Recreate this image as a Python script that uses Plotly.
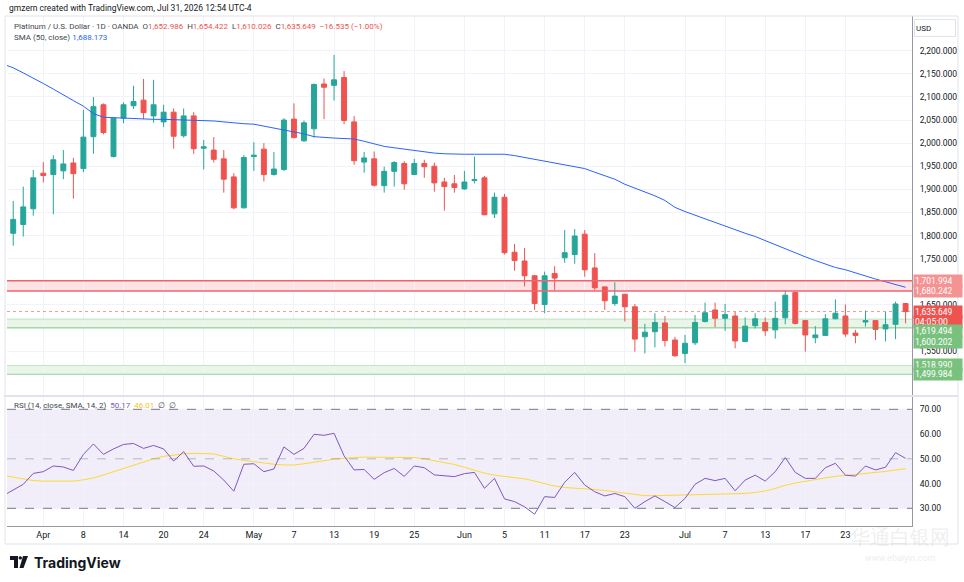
import pandas as pd
import plotly.graph_objects as go
from plotly.subplots import make_subplots

# daily bars (OANDA, Good Friday missing)
days = pd.bdate_range("2026-03-26", "2026-07-31")
days = days[days != pd.Timestamp("2026-04-03")]
dates = [d.strftime("%Y-%m-%d") for d in days]

opens = [1905, 1805, 1824, 1858,
         1935, 1932, 1940, 1957, 1945, 2014, 2083, 1971, 2054, 2081, 2093, 2059, 2046, 2067, 2016, 2059, 1989, 1985, 1966, 1927, 1860,
         1971, 1987, 1932, 1943, 2052, 2005, 2031, 2128, 2125, 2142, 2046, 1959, 1966, 1908, 1939, 1956, 1932, 1956, 1950, 1916, 1912,
         1901, 1919, 1925, 1847, 1883, 1764, 1745, 1713, 1651, 1718, 1752, 1759, 1803, 1730, 1689, 1653, 1673, 1646, 1581, 1592, 1611, 1574,
         1545, 1568, 1614, 1639, 1621, 1626, 1571, 1605, 1612, 1596, 1622, 1677, 1616, 1579, 1584, 1620, 1626, 1589, 1613, 1616, 1598, 1608, 1652.986]
highs = [1915, 1875, 1906, 1942,
         1959, 1974, 1985, 1968, 2072, 2100, 2086, 2056, 2088, 2124, 2139, 2137, 2083, 2075, 2075, 2067, 2007, 2013, 1985, 1935, 1974,
         2002, 2000, 1981, 2054, 2086, 2049, 2129, 2140, 2191, 2156, 2059, 1981, 1982, 1949, 1961, 1961, 1966, 1964, 1958, 1925, 1931,
         1940, 1971, 1929, 1893, 1890, 1782, 1773, 1715, 1722, 1734, 1812, 1814, 1812, 1762, 1690, 1699, 1674, 1652, 1609, 1632, 1626, 1581,
         1585, 1628, 1655, 1655, 1652, 1635, 1623, 1632, 1623, 1657, 1681, 1677, 1617, 1604, 1630, 1662, 1651, 1596, 1638, 1617, 1635, 1657, 1654.422]
lows = [1795, 1778, 1798, 1843,
        1915, 1846, 1922, 1880, 1937, 1977, 2019, 1969, 2043, 2074, 2052, 2044, 2035, 1988, 2012, 1977, 1943, 1958, 1893, 1857, 1859,
        1940, 1917, 1930, 1940, 2010, 2003, 2012, 2052, 2092, 2041, 1953, 1936, 1906, 1893, 1906, 1899, 1931, 1925, 1895, 1854, 1893,
        1899, 1913, 1844, 1838, 1759, 1724, 1690, 1639, 1632, 1682, 1741, 1739, 1711, 1682, 1639, 1648, 1614, 1549, 1545, 1558, 1560, 1538,
        1524, 1563, 1612, 1602, 1594, 1556, 1569, 1599, 1583, 1577, 1608, 1608, 1549, 1567, 1583, 1619, 1581, 1567, 1603, 1574, 1571, 1576, 1610.026]
closes = [1803, 1835, 1862, 1925,
          1930, 1964, 1955, 1934, 2013, 2079, 2023, 2054, 2083, 2090, 2066, 2083, 2067, 2015, 2059, 1988, 1992, 1965, 1922, 1860, 1969,
          1974, 1932, 1944, 2050, 2012, 2044, 2127, 2121, 2137, 2049, 1962, 1968, 1909, 1939, 1958, 1912, 1956, 1949, 1914, 1906, 1904,
          1916, 1921, 1845, 1883, 1763, 1746, 1713, 1653, 1713, 1708, 1763, 1799, 1726, 1687, 1659, 1669, 1646, 1576, 1591, 1612, 1573, 1540,
          1567, 1612, 1633, 1621, 1629, 1572, 1604, 1620, 1594, 1621, 1671, 1610, 1585, 1585, 1620, 1632, 1587, 1584, 1616, 1597, 1607, 1652, 1635.649]

sma50 = [2171, 2163, 2152, 2141,
         2129, 2117, 2104, 2092, 2080, 2064, 2056, 2055, 2053, 2052, 2051.5, 2051.5, 2051.5, 2051, 2050, 2049, 2048.5, 2048, 2046, 2043.5, 2042,
         2041, 2037, 2033, 2029, 2025, 2020, 2014, 2012, 2011, 2010, 2009, 2004, 1998, 1993, 1990, 1987, 1984, 1981, 1978.5, 1977, 1976,
         1976, 1976, 1976, 1976, 1976, 1973, 1969, 1965, 1961, 1957, 1953, 1950, 1945, 1937, 1930, 1922, 1911, 1903, 1894, 1886, 1876, 1861,
         1852, 1844, 1836, 1828, 1820, 1812, 1805, 1798, 1789, 1780, 1771, 1762, 1754, 1746, 1738, 1731, 1726, 1719, 1713, 1706, 1700, 1694, 1688.173]

rsi = [35.1, 37.4, 39.7, 44.1,
       44.8, 47.1, 46.7, 45.3, 51.8, 56.0, 51.8, 54.0, 55.8, 56.2, 54.2, 55.4, 54.0, 49.1, 52.9, 47.0, 47.1, 45.1, 41.4, 36.9, 47.8,
       48.0, 44.8, 45.9, 54.8, 51.8, 54.2, 59.9, 59.5, 60.3, 51.2, 45.5, 45.7, 41.7, 44.4, 46.1, 42.9, 47.1, 46.4, 43.5, 43.0, 42.8,
       44.0, 44.5, 38.1, 42.1, 33.8, 32.7, 30.6, 27.6, 34.7, 34.4, 40.5, 44.5, 39.4, 36.7, 35.0, 36.0, 34.7, 30.0, 32.7, 35.0, 32.7, 30.3,
       34.0, 39.7, 42.1, 41.2, 42.1, 37.1, 41.4, 43.4, 41.0, 44.8, 50.5, 44.5, 42.1, 42.1, 46.4, 48.2, 43.4, 43.0, 47.1, 45.5, 46.6, 52.5, 50.17]
rsi_sma = [43.3, 42.5, 41.8, 41.2,
           41.0, 41.1, 41.1, 41.0, 41.5, 42.3, 43.5, 44.8, 46.2, 47.6, 48.8, 50.0, 51.0, 51.6, 52.0, 52.2, 52.2, 52.0, 51.0, 50.0, 49.4,
           48.8, 48.2, 47.8, 47.5, 47.5, 48.0, 48.5, 49.2, 49.9, 50.3, 50.5, 50.7, 50.7, 50.7, 50.6, 50.5, 50.5, 50.0, 49.3, 48.6, 47.7,
           46.6, 45.3, 44.2, 43.4, 43.0, 42.6, 41.9, 41.0, 39.9, 39.0, 38.4, 38.2, 38.1, 37.6, 37.2, 36.7, 36.1, 35.4, 35.1, 35.1, 35.2, 35.3,
           35.4, 35.5, 35.6, 35.6, 35.6, 35.7, 36.0, 36.4, 37.0, 38.0, 39.3, 40.2, 40.8, 41.4, 42.3, 42.9, 43.3, 43.6, 43.9, 44.4, 44.9, 45.5, 46.01]

# horizontal zones drawn on the chart
resistance = (1680.242, 1701.994)
supports = [(1600.202, 1619.494), (1499.984, 1518.990)]
last_price = 1635.649

tick_dates = ["2026-04-01", "2026-04-08", "2026-04-14", "2026-04-20", "2026-04-24",
              "2026-05-01", "2026-05-07", "2026-05-13", "2026-05-19", "2026-05-25",
              "2026-06-01", "2026-06-05", "2026-06-11", "2026-06-17", "2026-06-23",
              "2026-07-01", "2026-07-07", "2026-07-13", "2026-07-17", "2026-07-23"]
tick_text = ["Apr", "8", "14", "20", "24", "May", "7", "13", "19", "25",
             "Jun", "5", "11", "17", "23", "Jul", "7", "13", "17", "23"]
price_ticks = [1550, 1650, 1750, 1800, 1850, 1900, 1950, 2000, 2050, 2100, 2150, 2200]

UP = "#26a69a"
DOWN = "#ef5350"
GRID = "#f0f3fa"
TXT = "#131722"

fig = make_subplots(rows=2, cols=1, shared_xaxes=True)

fig.add_trace(go.Candlestick(
    x=dates, open=opens, high=highs, low=lows, close=closes,
    increasing=dict(line=dict(color=UP, width=1), fillcolor=UP),
    decreasing=dict(line=dict(color=DOWN, width=1), fillcolor=DOWN),
    whiskerwidth=0, hoverinfo="skip"), row=1, col=1)
fig.add_trace(go.Scatter(x=dates, y=sma50, mode="lines",
                         line=dict(color="#2962ff", width=1), hoverinfo="skip"), row=1, col=1)

fig.add_trace(go.Scatter(x=dates, y=rsi_sma, mode="lines",
                         line=dict(color="#fdd835", width=1), hoverinfo="skip"), row=2, col=1)
fig.add_trace(go.Scatter(x=dates, y=rsi, mode="lines",
                         line=dict(color="#7e57c2", width=1), hoverinfo="skip"), row=2, col=1)

# zones
fig.add_shape(type="rect", xref="x domain", yref="y", x0=0, x1=1,
              y0=resistance[0], y1=resistance[1], fillcolor="rgba(242,54,69,0.14)",
              line=dict(width=0), layer="below")
for v in resistance:
    fig.add_shape(type="line", xref="x domain", yref="y", x0=0, x1=1, y0=v, y1=v,
                  line=dict(color="#f0646c", width=1.5))
for lo, hi in supports:
    fig.add_shape(type="rect", xref="x domain", yref="y", x0=0, x1=1, y0=lo, y1=hi,
                  fillcolor="rgba(76,175,80,0.13)", line=dict(width=0), layer="below")
    fig.add_shape(type="line", xref="x domain", yref="y", x0=0, x1=1, y0=lo, y1=lo,
                  line=dict(color="rgba(76,175,80,0.55)", width=1.2))
    fig.add_shape(type="line", xref="x domain", yref="y", x0=0, x1=1, y0=hi, y1=hi,
                  line=dict(color="rgba(76,175,80,0.3)", width=1))
fig.add_shape(type="line", xref="x domain", yref="y", x0=0, x1=1, y0=last_price, y1=last_price,
              line=dict(color="rgba(239,83,80,0.6)", width=1, dash="dot"))

# RSI band and levels
fig.add_shape(type="rect", xref="x2 domain", yref="y2", x0=0, x1=1, y0=30, y1=70,
              fillcolor="rgba(126,87,194,0.1)", line=dict(width=0), layer="below")
for lvl, col in [(70, "#787b86"), (50, "rgba(120,123,134,0.5)"), (30, "#787b86")]:
    fig.add_shape(type="line", xref="x2 domain", yref="y2", x0=0, x1=1, y0=lvl, y1=lvl,
                  line=dict(color=col, width=1, dash="dash"))

# pane separator, outer frame
fig.add_shape(type="line", xref="paper", yref="paper", x0=-0.003, x1=1.051, y0=0.2549, y1=0.2549,
              line=dict(color="#e0e3eb", width=2))
fig.add_shape(type="rect", xref="paper", yref="paper", x0=-0.0022, x1=1.0508, y0=-0.0353, y1=1,
              line=dict(color="#e0e3eb", width=1))

# tradingview logo mark
lx = lambda px: (px - 7) / 905
ly = lambda py: (526 - py) / 510
fig.add_shape(type="path", xref="paper", yref="paper",
              path=f"M{lx(10)},{ly(556)} L{lx(18)},{ly(556)} L{lx(18)},{ly(568)} L{lx(14)},{ly(568)} "
                   f"L{lx(14)},{ly(560)} L{lx(10)},{ly(560)} Z",
              fillcolor="#131722", line=dict(width=0))
fig.add_shape(type="circle", xref="paper", yref="paper", x0=lx(18.6), x1=lx(22), y0=ly(559.6), y1=ly(556.2),
              fillcolor="#131722", line=dict(width=0))
fig.add_shape(type="path", xref="paper", yref="paper",
              path=f"M{lx(23)},{ly(556)} L{lx(28)},{ly(556)} L{lx(23.5)},{ly(568)} L{lx(19.5)},{ly(568)} Z",
              fillcolor="#131722", line=dict(width=0))

ann = []
ann.append(dict(text="gmzern created with TradingView.com, Jul 31, 2026 12:54 UTC-4",
                x=0, y=ly(8), xref="paper", yref="paper", xanchor="left", yanchor="middle",
                showarrow=False, font=dict(size=8.5, color=TXT)))
ann.append(dict(text="<span style='color:#434651'>Platinum / U.S. Dollar · 1D · OANDA  O</span>1,652.986"
                     "<span style='color:#434651'>  H</span>1,654.422<span style='color:#434651'>  L</span>1,610.026"
                     "<span style='color:#434651'>  C</span>1,635.649  −16.535 (−1.00%)",
                x=lx(12), y=ly(26), xref="paper", yref="paper", xanchor="left", yanchor="middle",
                showarrow=False, font=dict(size=8, color=DOWN)))
ann.append(dict(text="<span style='color:#434651'>SMA (50, close) </span>1,688.173",
                x=lx(12), y=ly(38), xref="paper", yref="paper", xanchor="left", yanchor="middle",
                showarrow=False, font=dict(size=8, color="#2962ff")))
ann.append(dict(text="RSI (14, close, SMA, 14, 2)  <span style='color:#7e57c2'>50.17</span>  "
                     "<span style='color:#f5c518'>46.01</span>  ∅  ∅",
                x=lx(12), y=ly(405), xref="paper", yref="paper", xanchor="left", yanchor="middle",
                showarrow=False, font=dict(size=8, color="#434651")))
ann.append(dict(text="<b>TradingView</b>", x=lx(32), y=ly(562), xref="paper", yref="paper",
                xanchor="left", yanchor="middle", showarrow=False,
                font=dict(size=14, color=TXT, family="Inter")))
ann.append(dict(text="USD", x=1, y=ly(27.5), xref="paper", yref="paper", xanchor="left", yanchor="middle",
                xshift=2, showarrow=False, width=38, height=14, align="left",
                bordercolor="#e0e3eb", borderwidth=1, font=dict(size=8, color=TXT)))
ann.append(dict(text="华通白银网", x=lx(900), y=ly(537), xref="paper", yref="paper",
                xanchor="center", yanchor="middle", showarrow=False,
                font=dict(size=20, color="rgba(200,200,200,0.3)")))
ann.append(dict(text="www.ebaiyin.com", x=lx(900), y=ly(558), xref="paper", yref="paper",
                xanchor="center", yanchor="middle", showarrow=False,
                font=dict(size=9, color="rgba(200,200,200,0.35)")))

# right scale price tags
tags = [
    ("1,701.994", resistance[1], "#f59393", 0),
    ("1,680.242", resistance[0], "#f59393", 0),
    ("1,635.649", last_price, DOWN, 0),
    ("04:05:00", last_price, DOWN, -10),
    ("1,619.494", supports[0][1], "#79c27e", -12),
    ("1,600.202", supports[0][0], "#79c27e", -14),
    ("1,518.990", supports[1][1], "#79c27e", 0),
    ("1,499.984", supports[1][0], "#79c27e", 0),
]
for t, v, c, ys in tags:
    ann.append(dict(text=t, x=1, y=v, xref="paper", yref="y", xanchor="left", yanchor="middle",
                    xshift=1, yshift=ys, showarrow=False, width=46, height=10, align="left",
                    bgcolor=c, font=dict(size=8.5, color="white")))

fig.update_layout(
    width=964, height=582, margin=dict(l=7, r=52, t=16, b=56),
    plot_bgcolor="white", paper_bgcolor="white", showlegend=False,
    font=dict(family="Roboto", size=9, color=TXT), annotations=ann, hovermode=False,
)
fig.update_xaxes(type="category", range=[0.38, 90.64], tickvals=tick_dates, ticktext=tick_text,
                 showgrid=True, gridcolor=GRID, gridwidth=1, ticks="", zeroline=False,
                 rangeslider_visible=False, fixedrange=True)
fig.update_xaxes(showticklabels=False, row=1, col=1)
fig.update_xaxes(showticklabels=True, showline=True, linecolor="#9598a1", linewidth=1,
                 tickfont=dict(size=9, color=TXT), row=2, col=1)
fig.update_yaxes(side="right", showgrid=True, gridcolor=GRID, zeroline=False, ticks="",
                 showline=True, linecolor="#9598a1", linewidth=1, ticklabelstandoff=5,
                 tickfont=dict(size=8.5, color=TXT), fixedrange=True)
fig.update_yaxes(domain=[0.2569, 1], range=[1455.1, 2275.1], tickvals=price_ticks,
                 tickformat=",.3f", row=1, col=1)
fig.update_yaxes(domain=[0, 0.2529], range=[22.85, 74.97], tickvals=[30, 40, 50, 60, 70],
                 tickformat=".2f", row=2, col=1)

# page body has a default margin; drop it so the figure sits at the window corner
fig.write_html("out.html", config={"displayModeBar": False},
               post_script="document.body.style.margin='0';")
